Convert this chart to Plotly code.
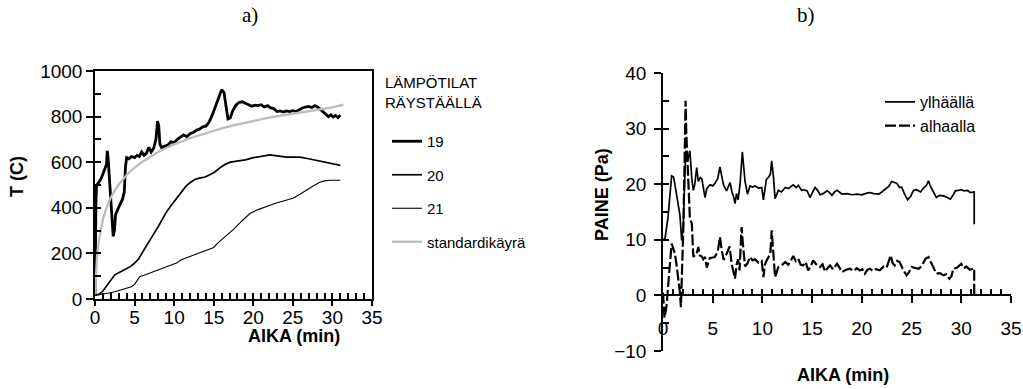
import plotly.graph_objects as go

# ---------------- chart a) temperatures ----------------
t19 = [0, 0.05, 0.12, 0.2, 0.5, 0.8, 1.1, 1.3, 1.45, 1.55, 1.65, 1.8, 2.0, 2.15, 2.3, 2.45, 2.6, 2.9, 3.2, 3.5,
       3.7, 3.85, 4.0, 4.3, 4.6, 5.0, 5.3, 5.6, 5.9, 6.2, 6.5, 6.8, 7.1, 7.4, 7.7, 7.9, 8.05, 8.2, 8.4, 8.8,
       9.2, 9.6, 10.0, 10.4, 10.8, 11.2, 11.6, 12.0, 12.4, 12.8, 13.2, 13.6, 14.0, 14.4, 14.8, 15.2, 15.5, 15.8, 16.0, 16.3,
       16.5, 16.8, 17.1, 17.4, 17.8, 18.2, 18.6, 19.0, 19.4, 19.8, 20.2, 20.6, 21.0, 21.4, 21.8, 22.2, 22.6, 23.0, 23.4, 23.8,
       24.2, 24.6, 25.0, 25.4, 25.8, 26.2, 26.6, 27.0, 27.4, 27.8, 28.2, 28.6, 28.9, 29.2, 29.5, 29.8, 30.1, 30.4, 30.7, 31.0]
v19 = [20, 260, 430, 500, 512, 530, 560, 575, 590, 650, 620, 540, 420, 330, 275, 300, 370, 395, 420, 440,
       470, 580, 620, 615, 625, 620, 630, 625, 645, 630, 640, 665, 645, 660, 700, 780, 760, 680, 665, 670,
       675, 690, 685, 700, 712, 720, 712, 725, 730, 740, 745, 755, 758, 775, 805, 845, 870, 900, 918, 905,
       860, 790, 795, 825, 850, 862, 865, 860, 852, 845, 850, 848, 852, 842, 848, 838, 835, 822, 825, 820,
       825, 822, 826, 822, 832, 838, 842, 845, 840, 848, 840, 828, 815, 810, 800, 808, 798, 805, 796, 806]

t20 = [0, 0.5, 1.0, 1.5, 2.0, 2.5, 3.0, 3.75, 4.5, 5.0, 5.5, 6.0, 6.5, 7.0, 7.5, 8.0, 8.5, 9.0, 9.5, 10.0,
       10.5, 11.0, 11.5, 12.0, 12.6, 13.2, 13.9, 14.5, 15.1, 15.8, 16.4, 17.1, 18.0, 19.0, 20.0, 21.0, 22.1, 23.0, 24.2, 25.0,
       25.9, 27.0, 28.4, 29.7, 31.0]
v20 = [17, 20, 35, 60, 85, 106, 115, 128, 143, 157, 175, 205, 235, 265, 290, 318, 350, 380, 405, 428,
       448, 470, 495, 510, 524, 530, 535, 545, 556, 576, 590, 600, 605, 610, 620, 625, 632, 628, 622, 622,
       622, 615, 605, 597, 586]

t21 = [0, 0.8, 1.6, 2.5, 3.3, 4.0, 4.6, 5.0, 5.3, 5.65, 6.2, 6.9, 7.6, 8.4, 9.0, 9.65, 10.3, 10.9, 11.7, 12.6,
       13.4, 14.3, 15.0, 15.5, 16.2, 16.8, 17.5, 18.5, 19.6, 20.6, 21.7, 22.8, 23.8, 25.1, 26.0, 26.8, 27.6, 28.4, 29.0, 29.7,
       30.4, 31.0]
v21 = [17, 20, 25, 32, 40, 47, 54, 64, 80, 98, 104, 113, 122, 135, 142, 150, 158, 172, 183, 194,
       204, 216, 226, 245, 265, 282, 305, 340, 376, 392, 407, 420, 430, 443, 462, 480, 497, 512, 518, 521,
       521, 521]

t_std = [0, 0.1, 0.25, 0.5, 0.75, 1, 1.5, 2, 2.5, 3, 4, 5, 6, 7, 8, 9, 10, 12, 14, 16,
         18, 20, 22, 24, 26, 28, 30, 31.4]
v_std = [20, 110, 185, 260, 310, 350, 405, 445, 476, 502, 544, 576, 602, 625, 645, 662, 678, 705, 728, 748,
         766, 781, 795, 807, 819, 830, 840, 852]

# ---------------- chart b) pressures ----------------
t_up = [0, 0.2, 0.5, 0.87, 1.07, 1.3, 1.54, 1.7, 1.88, 2.04, 2.2, 2.3, 2.45, 2.55, 2.7, 2.9, 3.05, 3.2, 3.39, 3.55,
        3.75, 3.9, 4.05, 4.23, 4.4, 4.73, 5.0, 5.2, 5.5, 5.73, 5.9, 6.1, 6.4, 6.6, 6.74, 6.95, 7.1, 7.24, 7.4, 7.55,
        7.75, 7.98, 8.1, 8.25, 8.5, 8.75, 9.0, 9.25, 9.6, 9.93, 10.1, 10.25, 10.4, 10.6, 10.8, 10.93, 11.1, 11.27, 11.6, 11.9,
        12.3, 12.6, 12.9, 13.1, 13.4, 13.6, 13.95, 14.2, 14.5, 14.8, 15.05, 15.3, 15.55, 15.8, 16.1, 16.5, 16.8, 17.0, 17.25, 17.5,
        17.8, 18.0, 18.5, 19.0, 19.5, 20.0, 20.5, 20.8, 21.2, 21.7, 22.0, 22.3, 22.7, 23.0, 23.3, 23.5, 23.8, 24.0, 24.3, 24.6,
        24.9, 25.2, 25.5, 25.9, 26.2, 26.5, 26.7, 26.9, 27.2, 27.5, 27.8, 28.2, 28.6, 28.9, 29.2, 29.4, 29.7, 30.0, 30.3, 30.6,
        30.9, 31.3, 31.3]
p_up = [10, 10.2, 14, 21.5, 21.3, 19, 15.9, 14.5, 9.9, 12.3, 21.8, 26, 24, 24.8, 26, 21, 18.9, 20, 23, 20.5,
        21.2, 21, 19.5, 17.6, 19.2, 19.9, 19.7, 20.1, 21, 23.1, 21.5, 19.8, 18.8, 19.6, 20.3, 18.5, 17.8, 16.5, 18.3, 17.2,
        20, 25.8, 23, 20.5, 18.2, 19.7, 19.5, 19.7, 19.3, 19.4, 17.2, 19.5, 20.9, 21.2, 21.8, 24.2, 21.5, 17.4, 18.9, 18.6,
        19.4, 19.2, 19.6, 19.9, 19.4, 19.8, 18.9, 19.0, 18.8, 17.6, 18.6, 19.4, 18.9, 18.1, 18.3, 18.8, 18.4, 18.0, 18.6, 18.9,
        18.5, 18.2, 18.3, 18.1, 18.2, 18.1, 18.4, 18.5, 18.3, 18.2, 18.6, 19.0, 19.6, 20.5, 20.4, 20.2, 19.4, 19.5, 18.2, 17.2,
        17.8, 18.9, 19.0, 18.6, 19.3, 19.8, 20.6, 19.6, 18.6, 17.6, 18.0, 17.9, 17.6, 17.3, 18.1, 18.8, 18.9, 19.0, 18.8, 18.9,
        18.5, 18.6, 12.8]

t_low = [0, 0.15, 0.35, 0.54, 0.7, 0.87, 1.0, 1.2, 1.4, 1.54, 1.7, 1.8, 1.95, 2.04, 2.15, 2.27, 2.35, 2.45, 2.55, 2.7,
         2.9, 3.05, 3.2, 3.39, 3.55, 3.7, 3.9, 4.05, 4.23, 4.4, 4.7, 5.0, 5.2, 5.5, 5.73, 5.9, 6.1, 6.4, 6.7, 6.9,
         7.05, 7.24, 7.4, 7.55, 7.7, 7.9, 8.05, 8.25, 8.5, 8.75, 9.0, 9.25, 9.6, 9.93, 10.1, 10.25, 10.4, 10.6, 10.8, 10.93,
         11.1, 11.27, 11.6, 11.9, 12.3, 12.6, 12.9, 13.1, 13.35, 13.6, 13.85, 14.1, 14.35, 14.6, 14.85, 15.1, 15.4, 15.8, 16.05, 16.3,
         16.55, 16.8, 17.1, 17.5, 17.75, 18.0, 18.4, 18.8, 19.2, 19.5, 19.8, 20.05, 20.3, 20.55, 20.8, 21.1, 21.4, 21.8, 22.2, 22.5,
         22.9, 23.1, 23.3, 23.55, 23.8, 24.1, 24.5, 24.75, 25.0, 25.35, 25.7, 26.0, 26.4, 26.7, 26.95, 27.2, 27.5, 27.85, 28.2, 28.5,
         28.8, 29.0, 29.2, 29.6, 30.0, 30.25, 30.5, 30.85, 31.2, 31.3, 31.3]
p_low = [0.5, -4, -2, 1.5, 5.7, 9.3, 8.5, 7.5, 5, 3.3, 0.5, -2.1, 5, 11.7, 22, 35, 29, 24, 21.2, 14,
         12.9, 6.9, 7.2, 7.5, 8.7, 7.2, 7.0, 6.5, 6.9, 5.0, 6.7, 6.8, 6.9, 7.8, 10.5, 8.2, 6.4, 7.5, 8.8, 5.7,
         4.5, 3.0, 5.5, 6.5, 4.5, 12.3, 9, 5.2, 5.8, 6.9, 6.3, 6.5, 5.9, 6.2, 3.3, 5.5, 6.2, 7.0, 7.5, 11.7,
         7.5, 3.3, 5.1, 5.4, 6.0, 5.5, 6.4, 7.1, 6.2, 6.6, 5.5, 5.4, 6.0, 4.5, 5.2, 6.3, 5.6, 5.1, 5.6, 4.3,
         4.9, 5.4, 4.7, 5.7, 5.0, 4.2, 4.6, 4.8, 4.4, 4.9, 4.5, 4.7, 3.9, 4.6, 4.8, 4.4, 4.7, 4.5, 5.2, 5.0,
         7.2, 5.8, 5.4, 6.2, 6.0, 4.8, 3.6, 4.2, 5.1, 4.9, 4.8, 5.2, 6.6, 6.9, 5.9, 4.8, 3.9, 4.0, 3.6, 3.8,
         3.0, 3.4, 4.8, 5.0, 5.7, 4.9, 5.2, 4.6, 4.8, 4.9, 0]

for a, b in [(t19, v19), (t20, v20), (t21, v21), (t_std, v_std), (t_up, p_up), (t_low, p_low)]:
    assert len(a) == len(b), (len(a), len(b))

FONT = "Liberation Sans, Arial, sans-serif"
W, H = 1023, 389


def px(x):
    return x / W


def py(y):
    return 1 - y / H


fig = go.Figure()

# chart a traces
fig.add_trace(go.Scatter(x=t19, y=v19, mode="lines", name="19", line=dict(color="black", width=2.8),
                         xaxis="x", yaxis="y", legend="legend", legendgroup="a1"))
fig.add_trace(go.Scatter(x=t20, y=v20, mode="lines", name="20", line=dict(color="black", width=1.7),
                         xaxis="x", yaxis="y", legend="legend", legendgroup="a2"))
fig.add_trace(go.Scatter(x=t21, y=v21, mode="lines", name="21", line=dict(color="black", width=1.1),
                         xaxis="x", yaxis="y", legend="legend", legendgroup="a3"))
fig.add_trace(go.Scatter(x=t_std, y=v_std, mode="lines", name="standardikäyrä", line=dict(color="#bcbcbc", width=2.3),
                         xaxis="x", yaxis="y", legend="legend", legendgroup="a4"))
# chart b traces
fig.add_trace(go.Scatter(x=t_up, y=p_up, mode="lines", name="ylhäällä", line=dict(color="black", width=1.7),
                         xaxis="x2", yaxis="y2", legend="legend2"))
fig.add_trace(go.Scatter(x=t_low, y=p_low, mode="lines", name="alhaalla",
                         line=dict(color="black", width=2.2, dash="11px,3px"),
                         xaxis="x2", yaxis="y2", legend="legend2"))
# empty traces so the overlay tick axes render
fig.add_trace(go.Scatter(x=[None], y=[None], xaxis="x3", yaxis="y3", showlegend=False, hoverinfo="skip"))
fig.add_trace(go.Scatter(x=[None], y=[None], xaxis="x4", yaxis="y4", showlegend=False, hoverinfo="skip"))

tickfont = dict(family=FONT, size=19, color="black")
ax_common = dict(showgrid=False, zeroline=False, linecolor="black", linewidth=1.5, tickcolor="black",
                 tickwidth=1.5, tickfont=tickfont, automargin=False)
ov_common = dict(showticklabels=False, showline=False, showgrid=False, zeroline=False,
                 tickcolor="black", tickwidth=1.5, automargin=False)

dom_ax = [px(95), px(372)]
dom_ay = [py(299), py(71)]
dom_bx = [px(663), px(1011)]
dom_by = [py(351), py(73)]

fig.update_layout(
    template="none",
    width=W, height=H, margin=dict(l=0, r=0, t=0, b=0, autoexpand=False),
    paper_bgcolor="white", plot_bgcolor="rgba(0,0,0,0)",
    font=dict(family=FONT, color="black"),
    hovermode=False,
    xaxis=dict(domain=dom_ax, range=[0, 35], dtick=5, ticks="outside", ticklen=5, anchor="y",
               mirror=True, showline=True, ticklabelstandoff=-5, **ax_common),
    yaxis=dict(domain=dom_ay, range=[0, 1000], dtick=200, ticks="outside", ticklen=7, anchor="x",
               mirror=True, showline=True, **ax_common),
    xaxis3=dict(overlaying="x", range=[0, 35], dtick=1, ticks="inside", ticklen=6, anchor="y", **ov_common),
    yaxis3=dict(overlaying="y", range=[0, 1000], dtick=100, ticks="inside", ticklen=6, anchor="x", **ov_common),
    xaxis2=dict(domain=dom_bx, range=[0, 35], dtick=5, ticks="outside", ticklen=7, anchor="free",
                position=py(295), showline=True, ticklabelstandoff=9, **ax_common),
    yaxis2=dict(domain=dom_by, range=[-10, 40], dtick=10, ticks="outside", ticklen=7, anchor="x2",
                showline=True, ticklabelstandoff=4, **ax_common),
    xaxis4=dict(overlaying="x2", range=[0, 35], dtick=1, ticks="inside", ticklen=6, anchor="free",
                position=py(295), **ov_common),
    yaxis4=dict(overlaying="y2", range=[-10, 40], dtick=5, ticks="inside", ticklen=6, anchor="x2", **ov_common),
    legend=dict(x=px(387), y=py(125), xanchor="left", yanchor="top", bgcolor="rgba(0,0,0,0)",
                font=dict(family=FONT, size=15, color="black"), traceorder="grouped", tracegroupgap=11),
    legend2=dict(x=px(880), y=py(85), xanchor="left", yanchor="top", bgcolor="rgba(0,0,0,0)",
                 font=dict(family=FONT, size=16, color="black")),
    showlegend=True,
)

ann = [
    dict(text="a)", x=px(250), y=py(15), font=dict(family="Liberation Serif, Times New Roman, serif", size=21)),
    dict(text="b)", x=px(806), y=py(15), font=dict(family="Liberation Serif, Times New Roman, serif", size=21)),
    dict(text="<b>AIKA (min)</b>", x=px(294), y=py(336), font=dict(family=FONT, size=18)),
    dict(text="<b>AIKA (min)</b>", x=px(843), y=py(375), font=dict(family=FONT, size=18)),
    dict(text="<b>T (C)</b>", x=px(17), y=py(177), textangle=-90, font=dict(family=FONT, size=18)),
    dict(text="<b>PAINE (Pa)</b>", x=px(602), y=py(195), textangle=-90, font=dict(family=FONT, size=18)),
]
for a in ann:
    fig.add_annotation(xref="paper", yref="paper", xanchor="center", yanchor="middle", showarrow=False, **a)

fig.add_annotation(xref="paper", yref="paper", x=px(383), y=py(92), xanchor="left", yanchor="middle",
                   align="left", showarrow=False, text="LÄMPÖTILAT<br>RÄYSTÄÄLLÄ",
                   font=dict(family=FONT, size=15, color="black"))

fig.write_html("out.html")
